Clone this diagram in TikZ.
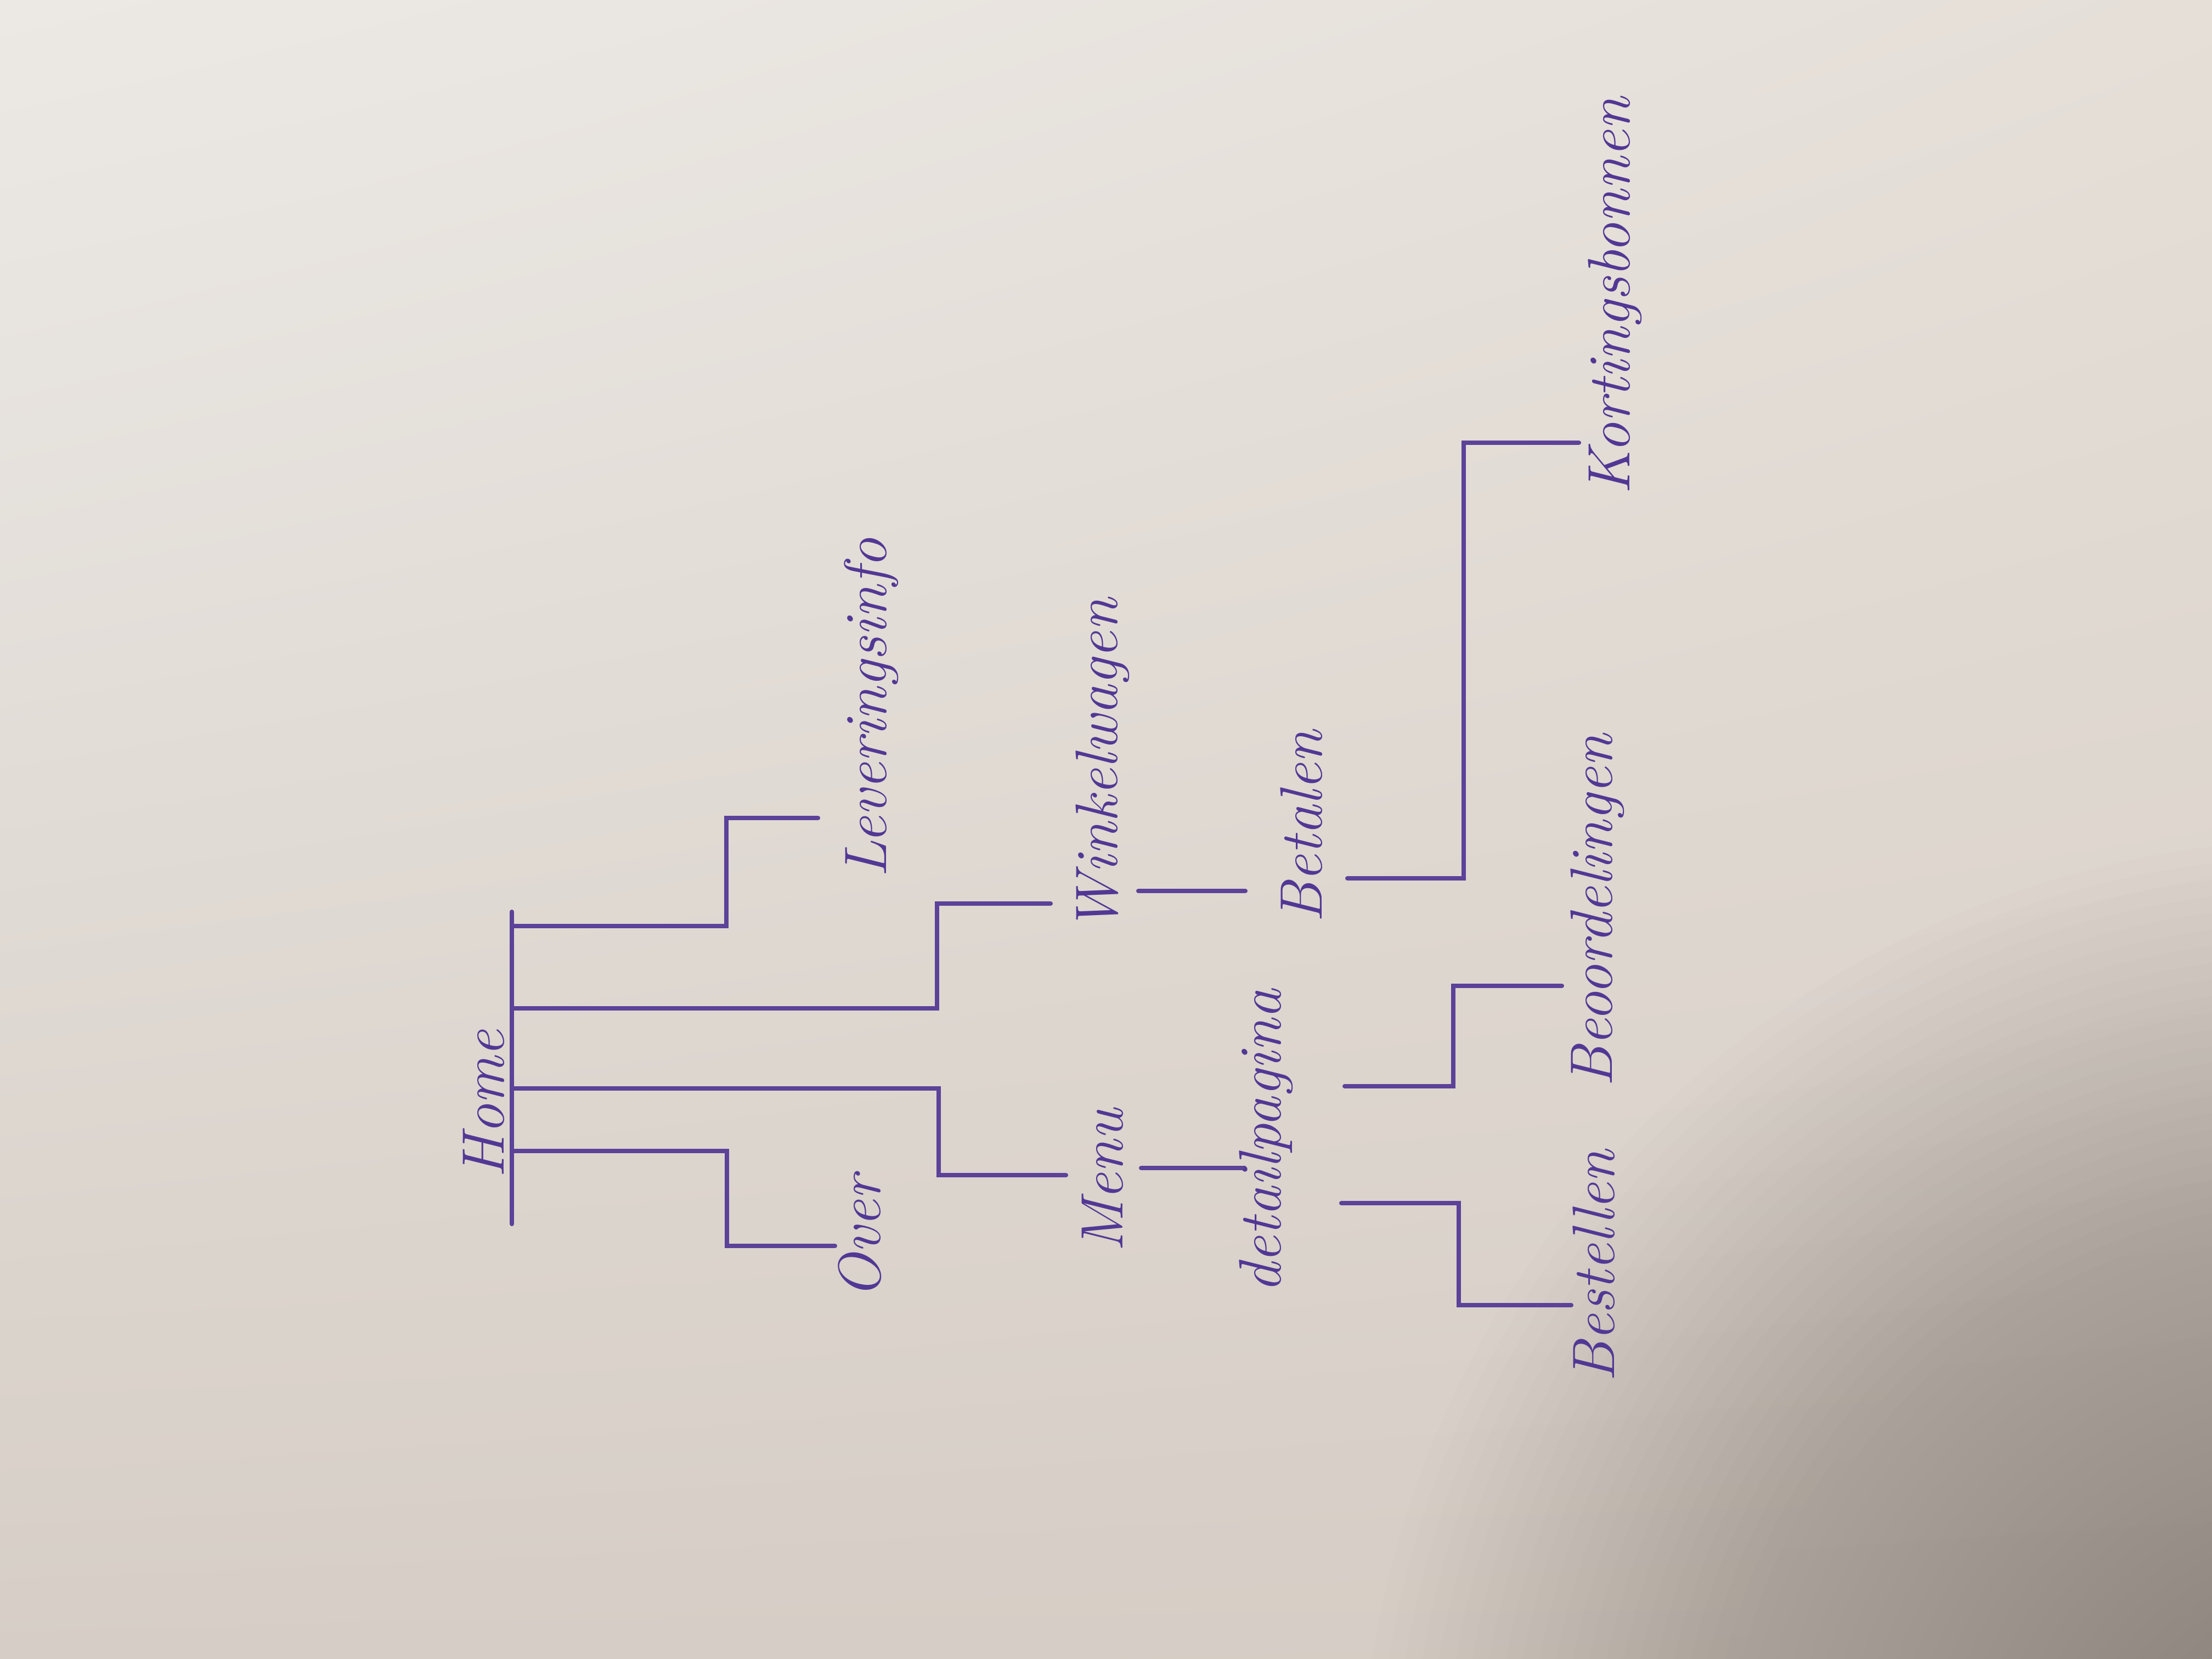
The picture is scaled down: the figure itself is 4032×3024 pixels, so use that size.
\documentclass[tikz,border=0pt]{standalone}
\usepackage{fontspec}
\usetikzlibrary{shadings}
\definecolor{ink}{RGB}{92,66,152}
\definecolor{txtink}{RGB}{82,56,148}
\definecolor{paperUL}{RGB}{236,233,229}
\definecolor{paperUR}{RGB}{229,223,216}
\definecolor{paperLL}{RGB}{214,206,198}
\definecolor{paperLR}{RGB}{214,205,197}
\definecolor{shadow}{RGB}{120,110,105}
\begin{document}
\begin{tikzpicture}[x=0.01cm,y=-0.01cm,
  conn/.style={draw=ink, line width=2.3pt, line cap=round, line join=miter},
  lbl/.style={text=txtink, rotate=90, inner sep=0pt, font=\fontsize{31}{36}\selectfont\itshape}]
\useasboundingbox (0,0) rectangle (4032,3024);
% paper
\shade[upper left=paperUL, upper right=paperUR, lower left=paperLL, lower right=paperLR] (0,0) rectangle (4032,3024);
\begin{scope}
\clip (0,0) rectangle (4032,3024);
\foreach \i in {1,...,50} {
  \fill[shadow, opacity=0.02] (4250,3300) circle ({1800-\i*30});
}
\end{scope}

% labels
\node[lbl] (home) at (882,2012) {Home};
\node[lbl] (over) at (1567,2255) {Over};
\node[lbl] (lever) at (1588,1290) {Leveringsinfo};
\node[lbl] (menu) at (2010,2152) {Menu};
\node[lbl] (winkel) at (2010,1395) {Winkelwagen};
\node[lbl] (detail) at (2308,2080) {detailpagina};
\node[lbl] (betalen) at (2372,1507) {Betalen};
\node[lbl] (bestellen) at (2905,2308) {Bestellen};
\node[lbl] (beoord) at (2912,1660) {Beoordelingen};
\node[lbl] (korting) at (2944,540) {Kortingsbonnen};

% connector points
\coordinate (hbT) at (933,1662);
\coordinate (hbB) at (933,2231);
\coordinate (h1) at (933,1688);
\coordinate (h2) at (933,1838);
\coordinate (h3) at (933,1984);
\coordinate (h4) at (933,2098);
\coordinate (eLever) at (1491,1491);
\coordinate (eWinkel) at (1915,1647);
\coordinate (eMenu) at (1943,2142);
\coordinate (eOver) at (1522,2271);
\coordinate (mdA) at (2080,2129);
\coordinate (mdB) at (2264,2129);
\coordinate (wbA) at (2075,1624);
\coordinate (wbB) at (2270,1624);
\coordinate (dBeoA) at (2451,1980);
\coordinate (eBeo) at (2847,1797);
\coordinate (dBesA) at (2445,2193);
\coordinate (eBes) at (2864,2379);
\coordinate (bKA) at (2456,1601);
\coordinate (eKort) at (2878,807);

% Home bar
\draw[conn] (hbT) -- (hbB);
% level 1
\draw[conn] (h1) -- (1324,1688) |- (eLever);
\draw[conn] (h2) -- (1708,1838) |- (eWinkel);
\draw[conn] (h3) -- (1711,1984) |- (eMenu);
\draw[conn] (h4) -- (1325,2098) |- (eOver);
% level 2
\draw[conn] (mdA) -- (mdB);
\draw[conn] (wbA) -- (wbB);
% level 3
\draw[conn] (dBeoA) -- (2649,1980) |- (eBeo);
\draw[conn] (dBesA) -- (2659,2193) |- (eBes);
\draw[conn] (bKA) -- (2668,1601) |- (eKort);
\end{tikzpicture}
\end{document}
